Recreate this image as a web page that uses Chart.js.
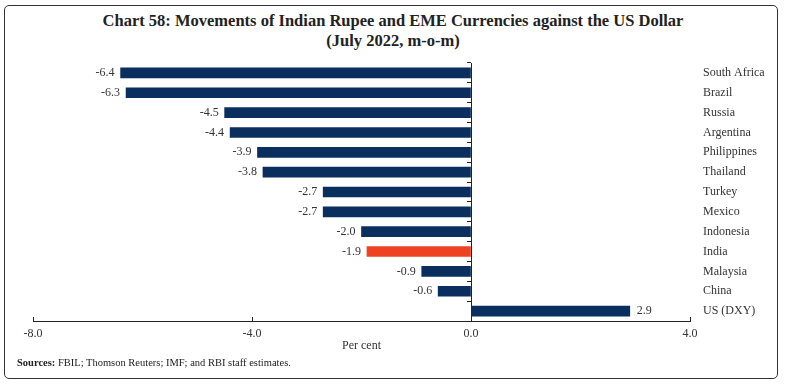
<!DOCTYPE html>
<html>
<head>
<meta charset="utf-8">
<script src="https://cdn.jsdelivr.net/npm/chart.js@4.4.0/dist/chart.umd.min.js"></script>
<style>
  html, body { margin: 0; padding: 0; background: #fff; }
  #wrap { position: relative; width: 786px; height: 384px; overflow: hidden; }
  #frame { position: absolute; left: 4px; top: 5px; width: 772px; height: 372px; border: 1.5px solid #333; border-radius: 5px; }
  #title { position: absolute; left: 0; top: 11px; width: 786px; text-align: center; font-family: "Liberation Serif", serif; font-weight: bold; font-size: 16.5px; line-height: 20px; color: #222; }
  #src { position: absolute; left: 17px; top: 357px; font-family: "Liberation Serif", serif; font-size: 10.5px; color: #222; }
  canvas { position: absolute; left: 0; top: 0; }
</style>
</head>
<body>
<div id="wrap">
  <div id="frame"></div>
  <div id="title">Chart 58: Movements of Indian Rupee and EME Currencies against the US Dollar<br>(July 2022, m-o-m)</div>
  <canvas id="myChart" width="786" height="384"></canvas>
  <div id="src"><b>Sources:</b> FBIL; Thomson Reuters; IMF; and RBI staff estimates.</div>
</div>
<script>
var countries = ["South Africa", "Brazil", "Russia", "Argentina", "Philippines", "Thailand", "Turkey", "Mexico", "Indonesia", "India", "Malaysia", "China", "US (DXY)"];
var changes = [-6.4, -6.3, -4.5, -4.4, -3.9, -3.8, -2.7, -2.7, -2.0, -1.9, -0.9, -0.6, 2.9];
var xTicks = [-8, -4, 0, 4];

var navy = "#0a2f5f";
var red = "#ee4223";
var serif = "'Liberation Serif', serif";

var barColors = countries.map(function (c) { return c === "India" ? red : navy; });

var valueLabels = {
    id: "valueLabels",
    afterDatasetsDraw: function (chart) {
        var ctx = chart.ctx;
        var meta = chart.getDatasetMeta(0);
        ctx.save();
        ctx.font = "12px " + serif;
        ctx.fillStyle = "#333";
        ctx.textBaseline = "middle";
        meta.data.forEach(function (bar, i) {
            var v = changes[i];
            if (v < 0) {
                ctx.textAlign = "right";
                ctx.fillText(v.toFixed(1), bar.x - 6, bar.y);
            } else {
                ctx.textAlign = "left";
                ctx.fillText(v.toFixed(1), bar.x + 7, bar.y);
            }
        });
        ctx.restore();
    }
};

var ctx = document.getElementById("myChart").getContext("2d");
var chart = new Chart(ctx, {
    type: "bar",
    data: {
        labels: countries,
        datasets: [
            {
                data: changes,
                backgroundColor: barColors,
                barThickness: 10
            }
        ]
    },
    options: {
        indexAxis: "y",
        responsive: false,
        animation: false,
        layout: { padding: { left: 33, right: 0, top: 63, bottom: 30 } },
        plugins: {
            legend: { display: false },
            tooltip: { enabled: false }
        },
        scales: {
            x: {
                min: -8,
                max: 4,
                afterBuildTicks: function (scale) {
                    scale.ticks = xTicks.map(function (v) { return { value: v }; });
                },
                afterFit: function (scale) { scale.height = 33; },
                grid: { drawOnChartArea: false, tickLength: -4, color: "#222", tickColor: "#222" },
                border: { color: "#222", width: 1 },
                ticks: {
                    padding: 10,
                    font: { family: serif, size: 12 },
                    color: "#333",
                    callback: function (v) { return Number(v).toFixed(1); }
                },
                title: {
                    display: true,
                    text: "Per cent",
                    font: { family: serif, size: 12 },
                    color: "#333",
                    padding: { top: 0, bottom: 1 }
                }
            },
            y: {
                position: { x: 0 },
                afterFit: function (scale) { scale.width = 0; },
                grid: { drawOnChartArea: false, offset: true, tickLength: 4, color: "#222", tickColor: "#222" },
                border: { color: "#222", width: 1 },
                ticks: { display: false }
            },
            y2: {
                type: "category",
                position: "right",
                labels: countries,
                offset: true,
                afterFit: function (scale) { scale.width = 96; },
                grid: { display: false, drawTicks: false },
                border: { display: false },
                ticks: {
                    padding: 13,
                    font: { family: serif, size: 12 },
                    color: "#333"
                }
            }
        }
    },
    plugins: [valueLabels]
});
</script>
</body>
</html>
